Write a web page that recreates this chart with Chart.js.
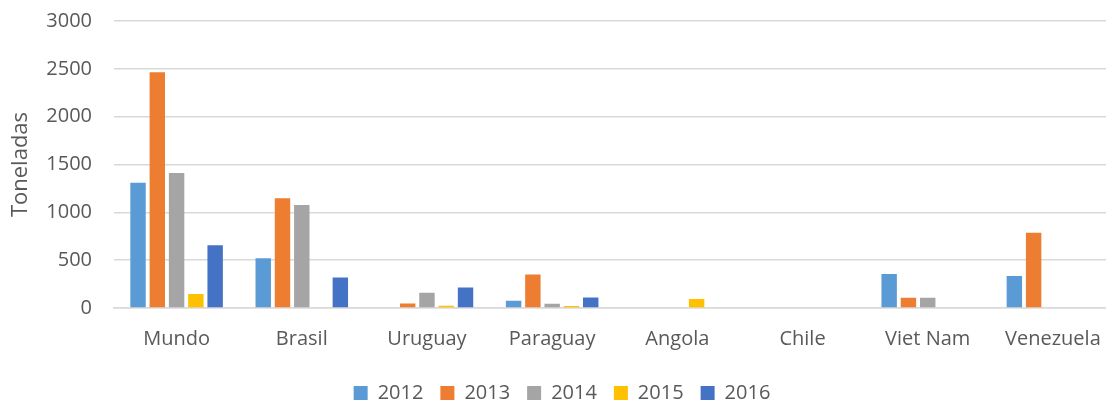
<!DOCTYPE html>
<html lang="es">
<head>
<meta charset="utf-8">
<title>Toneladas por país</title>
<script src="https://cdn.jsdelivr.net/npm/chart.js@4.4.1/dist/chart.umd.min.js"></script>
<style>
  html, body { margin: 0; padding: 0; background: #fff; overflow: hidden; }
  #wrap { position: relative; width: 1120px; height: 400px; }
</style>
</head>
<body>
<div id="wrap"><canvas id="grafico"></canvas></div>
<script>
/* ---- Datos ---- */
const paises = ["Mundo", "Brasil", "Uruguay", "Paraguay", "Angola", "Chile", "Viet Nam", "Venezuela"];
const anios  = ["2012", "2013", "2014", "2015", "2016"];

// null = sin dato / sin barra
const valores2012 = [1310, 520, null, 77, null, null, 356, 335];
const valores2013 = [2463, 1146, 48, 349, null, null, 108, 786];
const valores2014 = [1411, 1076, 160, 45, null, null, 108, null];
const valores2015 = [147, null, 24, 21, 94, null, null, null];
const valores2016 = [656, 318, 213, 111, null, null, null, null];

const yTicks = [0, 500, 1000, 1500, 2000, 2500, 3000];

const colores = ["#5B9BD5", "#ED7D31", "#A5A5A5", "#FFC000", "#4472C4"];
const series  = [valores2012, valores2013, valores2014, valores2015, valores2016];

const FUENTE = "'Open Sans', 'Liberation Sans', sans-serif";
const GRIS_TXT = "#595959";

const ctx = document.getElementById("grafico").getContext("2d");

new Chart(ctx, {
  type: "bar",
  data: {
    labels: paises,
    datasets: anios.map((anio, i) => ({
      label: anio,
      data: series[i],
      backgroundColor: colores[i],
      categoryPercentage: 0.77,
      barPercentage: 0.8,
    })),
  },
  options: {
    responsive: true,
    maintainAspectRatio: false,
    animation: false,
    layout: { padding: { left: 8, right: 4, top: 21, bottom: -13 } },
    plugins: {
      tooltip: { enabled: false },
      legend: {
        position: "bottom",
        labels: {
          color: GRIS_TXT,
          font: { family: FUENTE, size: 20 },
          boxWidth: 14,
          boxHeight: 14,
          padding: 17,
        },
      },
    },
    scales: {
      x: {
        grid: { display: false, drawTicks: false },
        border: { color: "#d9d9d9", width: 1.5 },
        ticks: { color: GRIS_TXT, font: { family: FUENTE, size: 20 }, padding: 19, maxRotation: 0 },
        afterFit: s => { s.height -= 4; },
      },
      y: {
        min: 0,
        max: 3000,
        afterBuildTicks: axis => { axis.ticks = yTicks.map(v => ({ value: v })); },
        // ancho fijo del eje para que el área de trazado empiece donde en el original
        afterFit: s => { s.width = 106; s.paddingTop = 12; s.paddingBottom = 12; },
        grid: { color: "#d9d9d9", lineWidth: 1.5, drawTicks: false },
        border: { display: false },
        ticks: {
          color: GRIS_TXT,
          font: { family: FUENTE, size: 20 },
          padding: 22,
          callback: v => String(v),
        },
        title: {
          display: true,
          text: "Toneladas",
          color: GRIS_TXT,
          font: { family: FUENTE, size: 22 },
          padding: { top: 0, bottom: 0 },
        },
      },
    },
  },
});
</script>
</body>
</html>
